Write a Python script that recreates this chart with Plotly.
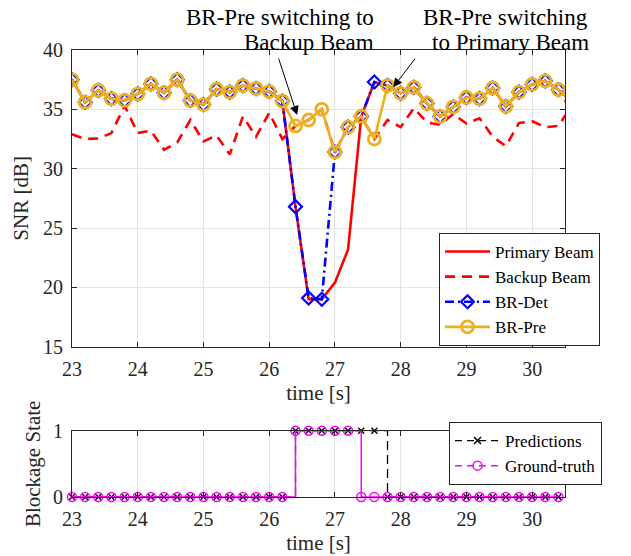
import plotly.graph_objects as go

# ---------------- data ----------------
time_s = [23.0, 23.2, 23.4, 23.6, 23.8, 24.0, 24.2, 24.4, 24.6, 24.8,
          25.0, 25.2, 25.4, 25.6, 25.8, 26.0, 26.2, 26.4, 26.6, 26.8,
          27.0, 27.2, 27.4, 27.6, 27.8, 28.0, 28.2, 28.4, 28.6, 28.8,
          29.0, 29.2, 29.4, 29.6, 29.8, 30.0, 30.2, 30.4, 30.6]

primary_beam = [37.5, 35.6, 36.6, 35.9, 35.75, 36.3, 37.15, 36.4, 37.5, 35.75,
                35.4, 36.7, 36.45, 37.0, 36.75, 36.5, 35.7, 26.8, 19.0, 19.0,
                20.4, 23.2, 34.4, 37.3, 37.0, 36.35, 36.85, 35.5, 34.4, 35.2,
                36.0, 35.9, 36.8, 35.25, 36.45, 37.1, 37.4, 36.65, 35.7]

backup_beam = [32.9, 32.5, 32.55, 33.0, 35.3, 33.0, 33.2, 31.6, 32.2, 34.1,
               32.3, 32.8, 31.2, 34.4, 32.7, 34.7, 32.5, 33.6, 34.1, 35.0,
               31.4, 33.5, 34.4, 32.5, 34.1, 33.5, 35.1, 33.9, 33.7, 34.6,
               33.8, 34.25, 32.7, 31.9, 33.85, 34.0, 33.5, 33.6, 35.3]

br_det = [37.5, 35.6, 36.6, 35.9, 35.75, 36.3, 37.15, 36.4, 37.5, 35.75,
          35.4, 36.7, 36.45, 37.0, 36.75, 36.5, 35.7, 26.8, 19.1, 19.0,
          31.4, 33.5, 34.4, 37.3, 37.0, 36.35, 36.85, 35.5, 34.4, 35.2,
          36.0, 35.9, 36.8, 35.25, 36.45, 37.1, 37.4, 36.65, 35.7]

br_pre = [37.5, 35.6, 36.6, 35.9, 35.75, 36.3, 37.15, 36.4, 37.5, 35.75,
          35.4, 36.7, 36.45, 37.0, 36.75, 36.5, 35.7, 33.6, 34.1, 35.0,
          31.4, 33.5, 34.4, 32.5, 37.0, 36.35, 36.85, 35.5, 34.4, 35.2,
          36.0, 35.9, 36.8, 35.25, 36.45, 37.1, 37.4, 36.65, 35.7]

block_time = time_s[:38]
predictions = [0, 0, 0, 0, 0, 0, 0, 0, 0, 0, 0, 0, 0, 0, 0, 0, 0,
               1, 1, 1, 1, 1, 1, 1,
               0, 0, 0, 0, 0, 0, 0, 0, 0, 0, 0, 0, 0, 0]
ground_truth = [0, 0, 0, 0, 0, 0, 0, 0, 0, 0, 0, 0, 0, 0, 0, 0, 0,
                1, 1, 1, 1, 1,
                0, 0, 0, 0, 0, 0, 0, 0, 0, 0, 0, 0, 0, 0, 0, 0]

x_ticks = [23, 24, 25, 26, 27, 28, 29, 30]
snr_ticks = [15, 20, 25, 30, 35, 40]
state_ticks = [0, 1]

# ---------------- figure ----------------
W, H = 631, 556
ML, MR, MT, MB = 72, 66, 50, 59
PW, PH = W - ML - MR, H - MT - MB


def xp(px):
    """window pixel x -> paper coordinate"""
    return (px - ML) / PW


def yp(py):
    """window pixel y -> paper coordinate"""
    return (H - MB - py) / PH


FONT = "Liberation Serif, Times New Roman, serif"
AX = "#262626"
GRID = "#E3E3E3"
YEL = "#EDB120"

fig = go.Figure()

fig.add_trace(go.Scatter(x=time_s, y=primary_beam, name="Primary Beam", mode="lines",
                         line=dict(color="#FF0000", width=2.6), legend="legend"))
fig.add_trace(go.Scatter(x=time_s, y=backup_beam, name="Backup Beam", mode="lines",
                         line=dict(color="#FF0000", width=2.6, dash="10px,7px"), legend="legend"))
fig.add_trace(go.Scatter(x=time_s, y=br_det, name="BR-Det", mode="lines+markers",
                         line=dict(color="#0000FF", width=2.6, dash="9px,4px,2px,4px"),
                         marker=dict(symbol="diamond-open", size=10, color="#0000FF",
                                     line=dict(width=2.2, color="#0000FF")),
                         legend="legend"))
fig.add_trace(go.Scatter(x=time_s, y=br_pre, name="BR-Pre", mode="lines+markers",
                         line=dict(color=YEL, width=2.6),
                         marker=dict(symbol="circle-open", size=12, color=YEL,
                                     line=dict(width=2.8, color=YEL)),
                         legend="legend"))

# blockage subplot
fig.add_trace(go.Scatter(x=block_time, y=predictions, name="Predictions", mode="lines+markers",
                         line=dict(color="black", width=1.3, dash="9px,5px", shape="hv"),
                         marker=dict(symbol="x-thin-open", size=6, color="black",
                                     line=dict(width=1.3, color="black")),
                         xaxis="x2", yaxis="y2", cliponaxis=False, showlegend=False))
fig.add_trace(go.Scatter(x=block_time, y=ground_truth, name="Ground-truth", mode="lines+markers",
                         line=dict(color="#FF00FF", width=1.5, shape="hv"),
                         marker=dict(symbol="circle-open", size=9, color="#FF00FF",
                                     line=dict(width=1.5, color="#FF00FF")),
                         xaxis="x2", yaxis="y2", cliponaxis=False, showlegend=False))
# legend entries for the blockage subplot
fig.add_trace(go.Scatter(x=[None], y=[None], name="Predictions", mode="lines+markers",
                         line=dict(color="black", width=1.3, dash="7px,5px"),
                         marker=dict(symbol="x-thin-open", size=7, color="black",
                                     line=dict(width=1.5, color="black")),
                         xaxis="x2", yaxis="y2", legend="legend2"))
fig.add_trace(go.Scatter(x=[None], y=[None], name="Ground-truth", mode="lines+markers",
                         line=dict(color="#FF00FF", width=1.5, dash="7px,5px"),
                         marker=dict(symbol="circle-open", size=9, color="#FF00FF",
                                     line=dict(width=1.5, color="#FF00FF")),
                         xaxis="x2", yaxis="y2", legend="legend2"))

axis_common = dict(showline=True, linecolor=AX, linewidth=1, mirror="ticks",
                   ticks="inside", ticklen=5, tickcolor=AX, showgrid=True,
                   gridcolor=GRID, gridwidth=1, zeroline=False,
                   tickfont=dict(family=FONT, size=20, color=AX))

top_dom = [yp(346.7), 1.0]
bot_dom = [0.0, yp(430.7)]

fig.update_layout(
    width=W, height=H,
    margin=dict(l=ML, r=MR, t=MT, b=MB, autoexpand=False),
    paper_bgcolor="white", plot_bgcolor="white",
    font=dict(family=FONT, color="black"),
    xaxis=dict(axis_common, range=[23, 30.5], tickvals=x_ticks, domain=[0, 1], anchor="y",
               ticklabelstandoff=4,
               title=dict(text="time [s]", font=dict(family=FONT, size=21, color=AX), standoff=6)),
    yaxis=dict(axis_common, range=[15, 40], tickvals=snr_ticks, domain=top_dom, anchor="x",
               ticklabelstandoff=4,
               title=dict(text="SNR [dB]", font=dict(family=FONT, size=21, color=AX), standoff=8)),
    xaxis2=dict(axis_common, range=[23, 30.5], tickvals=x_ticks, domain=[0, 1], anchor="y2",
                ticklabelstandoff=4,
                title=dict(text="time [s]", font=dict(family=FONT, size=21, color=AX), standoff=6)),
    yaxis2=dict(axis_common, range=[0, 1], tickvals=state_ticks, domain=bot_dom, anchor="x2",
                ticklabelstandoff=4,
                title=dict(text="Blockage State", font=dict(family=FONT, size=21, color=AX), standoff=6)),
    legend=dict(x=xp(439), y=yp(233), xanchor="left", yanchor="top",
                bgcolor="white", bordercolor=AX, borderwidth=1,
                font=dict(family=FONT, size=17, color="black"),
                itemwidth=45, tracegroupgap=0),
    legend2=dict(x=xp(449), y=yp(422), xanchor="left", yanchor="top",
                 bgcolor="white", bordercolor=AX, borderwidth=1,
                 font=dict(family=FONT, size=17, color="black"),
                 itemwidth=45, tracegroupgap=0),
)

ann_font = dict(family=FONT, size=23, color="black")
annotations = [
    dict(text="BR-Pre switching to", x=xp(376), y=yp(17), xref="paper", yref="paper",
         xanchor="right", yanchor="middle", showarrow=False, font=ann_font),
    dict(text="Backup Beam", x=xp(376), y=yp(43), xref="paper", yref="paper",
         xanchor="right", yanchor="middle", showarrow=False, font=ann_font),
    dict(text="BR-Pre switching", x=xp(421), y=yp(17), xref="paper", yref="paper",
         xanchor="left", yanchor="middle", showarrow=False, font=ann_font),
    dict(text="to Primary Beam", x=xp(430), y=yp(43), xref="paper", yref="paper",
         xanchor="left", yanchor="middle", showarrow=False, font=ann_font),
    dict(text="", x=26.425, y=34.52, xref="x", yref="y", ax=-19, ay=-58,
         showarrow=True, arrowhead=2, arrowsize=1.8, arrowwidth=1, arrowcolor="black"),
    dict(text="", x=27.886, y=36.86, xref="x", yref="y", ax=23, ay=-30,
         showarrow=True, arrowhead=2, arrowsize=1.8, arrowwidth=1, arrowcolor="black"),
]
fig.update_layout(annotations=annotations)

# draw the figure flush with the window corner (no default 8px page margin)
fig.write_html("out.html",
               config={"displayModeBar": False},
               post_script="document.body.style.margin='0px';document.body.style.overflow='hidden';")
